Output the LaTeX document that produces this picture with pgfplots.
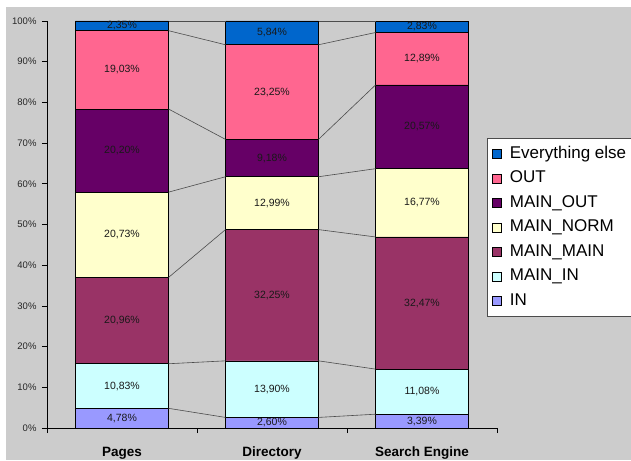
\documentclass[border=0pt]{standalone}
\usepackage{pgfplots}
\usepackage{pgfplotstable}
\pgfplotsset{compat=1.18}
\usepackage{fontspec}
\setmainfont{Liberation Sans}
\pgfkeys{/pgf/number format/assume math mode=true}
\definecolor{bg}{HTML}{CCCCCC}
\definecolor{cIN}{HTML}{9999FF}
\definecolor{cMIN}{HTML}{CCFFFF}
\definecolor{cMMAIN}{HTML}{993366}
\definecolor{cMNORM}{HTML}{FFFFCC}
\definecolor{cMOUT}{HTML}{660066}
\definecolor{cOUT}{HTML}{FF6690}
\definecolor{cELSE}{HTML}{0066CC}

\pgfplotstableread{
x IN   MIN   MMAIN MNORM MOUT  OUT   ELSE
0 4.78 10.83 20.96 20.73 20.20 19.03 2.35
1 2.60 13.90 32.25 12.99 9.18  23.25 5.84
2 3.39 11.08 32.47 16.77 20.57 12.89 2.83
}\data

\newcommand\cumA{\thisrow{IN}}
\newcommand\cumB{\cumA+\thisrow{MIN}}
\newcommand\cumC{\cumB+\thisrow{MMAIN}}
\newcommand\cumD{\cumC+\thisrow{MNORM}}
\newcommand\cumE{\cumD+\thisrow{MOUT}}
\newcommand\cumF{\cumE+\thisrow{OUT}}
\newcommand\cumG{\cumF+\thisrow{ELSE}}
\newcommand\tot{(\cumG)}

\pgfplotsset{
  common/.style={
    scale only axis, width=450pt, height=407pt,
    at={(47pt,32pt)}, anchor=south west,
    xmin=-0.5, xmax=2.5, ymin=0, ymax=100,
  },
  sq/.style={legend image code/.code={\draw[##1,draw=black,line width=0.5pt] (0pt,-4.5pt) rectangle (9pt,4.5pt);}},
}

\begin{document}
\begin{tikzpicture}
\path[use as bounding box] (0,0) rectangle (631pt,460pt);
\fill[white] (0,0) rectangle (631pt,460pt);
\fill[bg] (6pt,0) rectangle (631pt,453pt);

\begin{axis}[common,
  ybar stacked, bar width=93pt,
  axis lines*=left,
  axis line style={black, line width=0.7pt},
  tick align=outside, major tick length=5pt,
  tick style={black, line width=0.7pt},
  ytick={0,10,...,100},
  yticklabel={\pgfmathprintnumber{\tick}\%},
  yticklabel style={font=\fontsize{9.5}{11}\selectfont, text=black!85, xshift=-2pt},
  xtick={-0.5,0.5,1.5,2.5}, xticklabels={},
  extra x ticks={0,1,2},
  extra x tick labels={Pages,Directory,Search Engine},
  extra x tick style={major tick length=0pt,
    tick label style={font=\bfseries\fontsize{13.5}{16}\selectfont, text height=9.7pt, inner sep=0pt, yshift=-19pt}},
  every axis plot/.append style={draw=black, line width=0.6pt},
  every axis plot post/.append style={sq},
  reverse legend,
  legend cell align=left,
  legend style={at={(0.978,0.7125)}, anchor=north west, draw=black!70, fill=white,
    line width=0.6pt,
    font=\fontsize{17}{20}\selectfont, inner xsep=5pt, inner ysep=6.5pt,
    row sep=6.5pt, column sep=0pt,
    /tikz/every odd column/.append style={column sep=7pt},
    nodes={inner sep=1pt, text height=12.5pt, text depth=3.5pt}},
]
\addplot[fill=cIN]    table[x=x, y expr=\thisrow{IN}/\tot*100]{\data};
\addplot[fill=cMIN]   table[x=x, y expr=\thisrow{MIN}/\tot*100]{\data};
\addplot[fill=cMMAIN] table[x=x, y expr=\thisrow{MMAIN}/\tot*100]{\data};
\addplot[fill=cMNORM] table[x=x, y expr=\thisrow{MNORM}/\tot*100]{\data};
\addplot[fill=cMOUT]  table[x=x, y expr=\thisrow{MOUT}/\tot*100]{\data};
\addplot[fill=cOUT]   table[x=x, y expr=\thisrow{OUT}/\tot*100]{\data};
\addplot[fill=cELSE]  table[x=x, y expr=\thisrow{ELSE}/\tot*100]{\data};
\legend{IN,MAIN\_IN,MAIN\_MAIN,MAIN\_NORM,MAIN\_OUT,OUT,Everything else}
\end{axis}

\begin{axis}[common, hide axis, clip=false,
  every axis plot/.append style={line width=0.6pt},
  lab/.style={only marks, mark=none, point meta=explicit,
    nodes near coords={\pgfmathprintnumber[fixed,fixed zerofill,precision=2,use comma,assume math mode=true]{\pgfplotspointmeta}\%},
    every node near coord/.style={anchor=center, font=\fontsize{10.5}{12}\selectfont, text=black!90}},
]
\pgfplotsinvokeforeach{A,B,C,D,E,F,G}{
  \addplot[draw=black!70, skip coords between index={2}{3}]
    table[x expr=\thisrow{x}+0.31*(1-2*\thisrow{x}), y expr=(\csname cum#1\endcsname)/\tot*100]{\data};
  \addplot[draw=black!70, skip coords between index={0}{1}]
    table[x expr=\thisrow{x}+0.31*(3-2*\thisrow{x}), y expr=(\csname cum#1\endcsname)/\tot*100]{\data};
}
\addplot[lab] table[x=x, meta=IN,    y expr=(\thisrow{IN}/2)/\tot*100]{\data};
\addplot[lab] table[x=x, meta=MIN,   y expr=(\cumA+\thisrow{MIN}/2)/\tot*100]{\data};
\addplot[lab] table[x=x, meta=MMAIN, y expr=(\cumB+\thisrow{MMAIN}/2)/\tot*100]{\data};
\addplot[lab] table[x=x, meta=MNORM, y expr=(\cumC+\thisrow{MNORM}/2)/\tot*100]{\data};
\addplot[lab] table[x=x, meta=MOUT,  y expr=(\cumD+\thisrow{MOUT}/2)/\tot*100]{\data};
\addplot[lab] table[x=x, meta=OUT,   y expr=(\cumE+\thisrow{OUT}/2)/\tot*100]{\data};
\addplot[lab] table[x=x, meta=ELSE,  y expr=(\cumF+\thisrow{ELSE}/2)/\tot*100]{\data};
\end{axis}
\end{tikzpicture}
\end{document}
